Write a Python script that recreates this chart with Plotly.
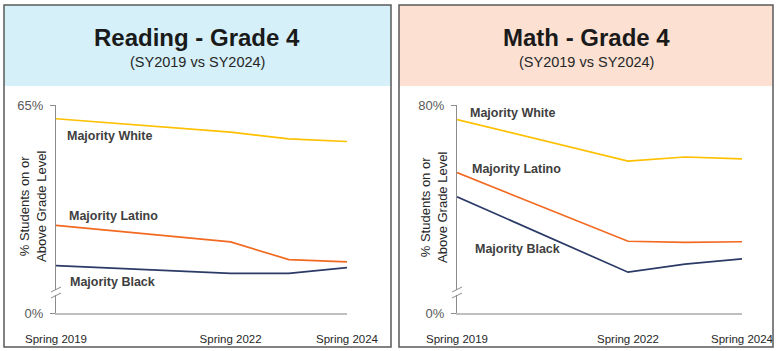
import plotly.graph_objects as go

W, H = 777, 351

years = [2019, 2022, 2023, 2024]
tick_years = [2019, 2022, 2024]
tick_labels = ["Spring 2019", "Spring 2022", "Spring 2024"]

reading_white = [60.7, 56.5, 54.4, 53.6]
reading_latino = [27.4, 22.2, 16.7, 16.0]
reading_black = [14.8, 12.4, 12.4, 14.2]

math_white = [74.4, 58.4, 60.0, 59.3]
math_latino = [54.0, 27.6, 27.2, 27.4]
math_black = [44.7, 15.7, 18.8, 20.8]

reading_max = 65
math_max = 80

C_WHITE = "#FFC000"
C_LATINO = "#F26A21"
C_BLACK = "#2B3A67"

FONT = "Arial, Liberation Sans, sans-serif"


def px(x):
    return x / W


def py(y):
    return 1 - y / H


fig = go.Figure()

for xa, ya, series in [
    ("x", "y", [(reading_white, C_WHITE, "Majority White"),
                (reading_latino, C_LATINO, "Majority Latino"),
                (reading_black, C_BLACK, "Majority Black")]),
    ("x2", "y2", [(math_white, C_WHITE, "Majority White"),
                  (math_latino, C_LATINO, "Majority Latino"),
                  (math_black, C_BLACK, "Majority Black")]),
]:
    for vals, col, name in series:
        fig.add_trace(go.Scatter(x=years, y=vals, mode="lines", name=name,
                                 line=dict(color=col, width=1.7),
                                 xaxis=xa, yaxis=ya, showlegend=False,
                                 hoverinfo="skip"))

top, bottom = 105, 313
L = dict(x0=56, x1=347)
R = dict(x0=457, x1=742)

def xaxis(dom, anchor):
    return dict(domain=[px(dom["x0"]), px(dom["x1"])], range=[2019, 2024],
                tickvals=tick_years, ticktext=tick_labels, ticks="",
                ticklabelstandoff=14, automargin=False, anchor=anchor,
                tickfont=dict(family=FONT, size=11.5, color="#262626"),
                showline=True, linecolor="#BFBFBF", linewidth=1.5,
                showgrid=False, zeroline=False, fixedrange=True)

def yaxis(mx, anchor):
    return dict(domain=[py(bottom), py(top)], range=[0, mx],
                tickvals=[0, mx], ticktext=["0%", f"{mx}%"],
                ticks="outside", ticklen=5, tickcolor="#8C8C8C", tickwidth=1,
                ticklabelstandoff=4, automargin=False,
                tickfont=dict(family=FONT, size=13, color="#595959"),
                showline=True, linecolor="#8C8C8C", linewidth=1,
                showgrid=False, zeroline=False, anchor=anchor, fixedrange=True)

shapes = []
annotations = []

panels = [
    dict(x0=4, x1=391, fill="#D5F0F9", title="Reading - Grade 4", axis_x=56,
         labels=[("Majority White", 65, 136), ("Majority Latino", 67, 216),
                 ("Majority Black", 68, 282)]),
    dict(x0=399, x1=773, fill="#FCE1D3", title="Math - Grade 4", axis_x=457,
         labels=[("Majority White", 468, 113), ("Majority Latino", 470, 169),
                 ("Majority Black", 473, 249)]),
]

for p in panels:
    shapes.append(dict(type="rect", xref="paper", yref="paper",
                       x0=px(p["x0"]), x1=px(p["x1"]), y0=py(86), y1=py(5),
                       fillcolor=p["fill"], line=dict(width=0), layer="below"))
    shapes.append(dict(type="rect", xref="paper", yref="paper",
                       x0=px(p["x0"]), x1=px(p["x1"]), y0=py(347), y1=py(5),
                       fillcolor="rgba(0,0,0,0)",
                       line=dict(color="#595959", width=1.5), layer="above"))
    cx = (p["x0"] + p["x1"]) / 2
    annotations.append(dict(xref="paper", yref="paper", x=px(cx), y=py(38),
                            text=f"<b>{p['title']}</b>", showarrow=False,
                            font=dict(family=FONT, size=24, color="#1A1A1A"),
                            xanchor="center", yanchor="middle"))
    annotations.append(dict(xref="paper", yref="paper", x=px(cx), y=py(62),
                            text="(SY2019 vs SY2024)", showarrow=False,
                            font=dict(family=FONT, size=14.5, color="#262626"),
                            xanchor="center", yanchor="middle"))
    annotations.append(dict(xref="paper", yref="paper", x=px(p["axis_x"] - 23),
                            y=py(207), text="% Students on or<br>Above Grade Level",
                            textangle=-90, showarrow=False,
                            font=dict(family=FONT, size=13, color="#262626"),
                            xanchor="center", yanchor="middle"))
    for txt, lx, ly in p["labels"]:
        annotations.append(dict(xref="paper", yref="paper", x=px(lx), y=py(ly),
                                text=f"<b>{txt}</b>", showarrow=False,
                                font=dict(family=FONT, size=12.5, color="#404040"),
                                xanchor="left", yanchor="middle"))
    ax = p["axis_x"]
    yb = 293
    shapes.append(dict(type="rect", xref="paper", yref="paper",
                       x0=px(ax - 2), x1=px(ax + 2), y0=py(yb + 2), y1=py(yb - 3),
                       fillcolor="white", line=dict(width=0), layer="above"))
    for dy in (-3, 3):
        shapes.append(dict(type="line", xref="paper", yref="paper",
                           x0=px(ax - 5), y0=py(yb + dy + 2),
                           x1=px(ax + 5), y1=py(yb + dy - 3),
                           line=dict(color="#8C8C8C", width=1), layer="above"))

fig.update_layout(
    width=W, height=H,
    margin=dict(l=0, r=0, t=0, b=0, autoexpand=False),
    paper_bgcolor="white", plot_bgcolor="rgba(0,0,0,0)",
    xaxis=xaxis(L, "y"), yaxis=yaxis(reading_max, "x"),
    xaxis2=xaxis(R, "y2"), yaxis2=yaxis(math_max, "x2"),
    shapes=shapes, annotations=annotations,
    font=dict(family=FONT),
)

fig.write_html("out.html")
